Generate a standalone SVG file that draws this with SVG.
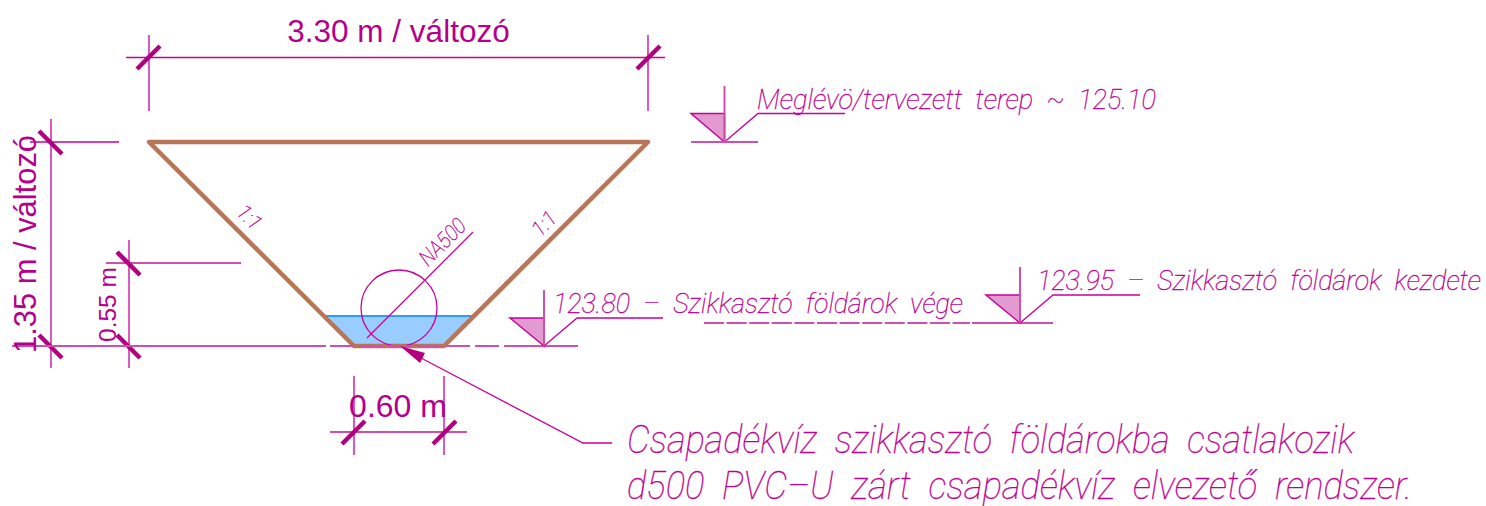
<svg xmlns="http://www.w3.org/2000/svg" width="1486" height="506" viewBox="0 0 1486 506">
<style>
.d{stroke:#c8009a;stroke-width:1.3;fill:none}
.d2{stroke:#d050a8;stroke-width:2;fill:none}
.t{stroke:#b0007f;stroke-width:4.5;fill:none}
.s{fill:#e29ad0;stroke:#c8009a;stroke-width:1.5}
.a{font-family:"Liberation Sans",Arial,sans-serif;fill:#b4008a}
.c{font-family:Roboto,"Liberation Sans",sans-serif;font-style:italic;font-weight:100;fill:#c0008f;stroke:#c0008f;stroke-width:.35;word-spacing:.25em}
</style>
<rect width="1486" height="506" fill="#fff"/>
<g id="water">
<polygon points="326,316 473,316 443,345 354,345" fill="#99ccff"/>
<line x1="326" y1="316" x2="473" y2="316" stroke="#3399ff" stroke-width="2"/>
</g>
<g id="ditch">
<polygon points="149,142 648,142 444,346 354,346" fill="none" stroke="#b87658" stroke-width="4.5" stroke-linejoin="round"/>
</g>
<g id="pipe">
<circle class="d" cx="399" cy="308" r="38"/>
<line class="d" x1="367" y1="338" x2="473" y2="232"/>
<text class="c" font-size="22" transform="translate(428,267) rotate(-45)" textLength="56" lengthAdjust="spacingAndGlyphs">NA500</text>
</g>
<g id="connectors">
<line class="d" x1="126" y1="57.5" x2="665" y2="57.5"/>
<line class="d" x1="149" y1="35" x2="149" y2="111"/>
<line class="d" x1="648" y1="35" x2="648" y2="111"/>
<line class="t" x1="137" y1="69" x2="160" y2="46"/>
<line class="t" x1="637" y1="69" x2="660" y2="46"/>
<line class="d" x1="30" y1="142" x2="119" y2="142"/>
<line class="d" x1="51" y1="119" x2="51" y2="368"/>
<line class="t" x1="39" y1="131" x2="62" y2="154"/>
<line class="t" x1="39" y1="335" x2="62" y2="358"/>
<line class="d" x1="129" y1="240" x2="129" y2="368"/>
<line class="d2" x1="106" y1="263" x2="241" y2="263"/>
<line class="t" x1="117" y1="252" x2="140" y2="275"/>
<line class="t" x1="117" y1="335" x2="140" y2="358"/>
<line class="d2" x1="12" y1="346" x2="326" y2="346"/>
<line class="d2" x1="330" y1="346" x2="510" y2="346" stroke-dasharray="24 5"/>
<line class="d2" x1="510" y1="346" x2="578" y2="346"/>
<line class="d" x1="354" y1="376" x2="354" y2="455"/>
<line class="d" x1="444" y1="376" x2="444" y2="455"/>
<line class="d2" x1="330" y1="432" x2="467" y2="432"/>
<line class="t" x1="342" y1="444" x2="365" y2="421"/>
<line class="t" x1="433" y1="444" x2="456" y2="421"/>
<polyline class="d" points="421,358 583,443 612,443"/>
<polygon points="400,346 425,353 420,363" fill="#b0007f"/>
<line class="d2" x1="704" y1="323" x2="970" y2="323" stroke-dasharray="20 2.6"/>
<line class="d2" x1="972" y1="323" x2="1053" y2="323"/>
</g>
<g id="level-top">
<polygon class="s" points="691,113.5 724.5,113.5 724.5,142"/>
<polyline class="d" points="724.5,142 758,113.5 845,113.5"/>
<line class="d2" x1="724.5" y1="86" x2="724.5" y2="142"/>
<line class="d2" x1="691" y1="142" x2="758" y2="142"/>
<text class="c" x="757" y="109" font-size="27.5" textLength="399" lengthAdjust="spacingAndGlyphs">Meglévö/tervezett terep ~ 125.10</text>
</g>
<g id="level-end">
<polygon class="s" points="510,318 544,318 544,346"/>
<polyline class="d" points="544,346 577,318 663,318"/>
<line class="d2" x1="544" y1="290" x2="544" y2="346"/>
<text class="c" x="553" y="313" font-size="27.5" textLength="410" lengthAdjust="spacingAndGlyphs">123.80 – Szikkasztó földárok vége</text>
</g>
<g id="level-start">
<polygon class="s" points="986,295 1020,295 1020,323"/>
<polyline class="d" points="1020,323 1053,295 1140,295"/>
<line class="d2" x1="1020" y1="267" x2="1020" y2="323"/>
<text class="c" x="1037" y="290" font-size="27" textLength="444" lengthAdjust="spacingAndGlyphs">123.95 – Szikkasztó földárok kezdete</text>
</g>
<g id="labels">
<text class="a" x="398.5" y="42" font-size="31.5" text-anchor="middle">3.30 m / változó</text>
<text class="a" font-size="32" transform="translate(36,353) rotate(-90)" textLength="218" lengthAdjust="spacingAndGlyphs">1.35 m / változó</text>
<text class="a" font-size="24.5" transform="translate(116,342) rotate(-90)">0.55 m</text>
<text class="a" x="398" y="417" font-size="32" text-anchor="middle">0.60 m</text>
<text class="c" font-size="21" transform="translate(235,213) rotate(45)">1:1</text>
<text class="c" font-size="21" transform="translate(540,238) rotate(-45)">1:1</text>
<text class="c" x="627" y="453" font-size="38" textLength="727" lengthAdjust="spacingAndGlyphs">Csapadékvíz szikkasztó földárokba csatlakozik</text>
<text class="c" x="627" y="499" font-size="38" textLength="785" lengthAdjust="spacingAndGlyphs">d500 PVC–U zárt csapadékvíz elvezető rendszer.</text>
</g>
</svg>
